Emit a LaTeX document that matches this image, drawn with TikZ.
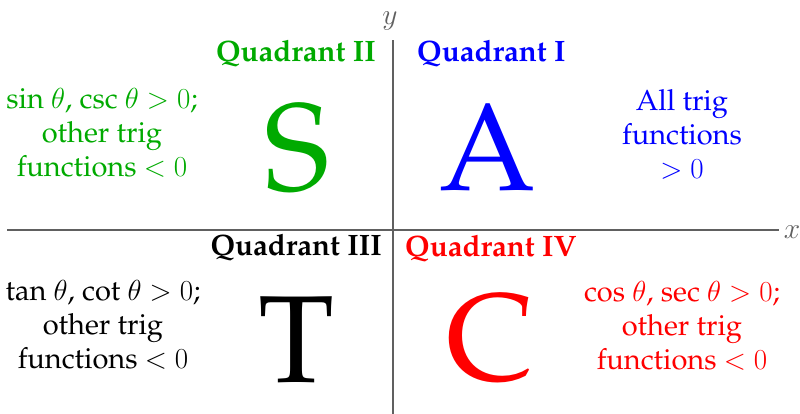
\RequirePackage{fix-cm}
\documentclass[tikz,border=0pt]{standalone}
\usepackage[T1]{fontenc}
\usepackage{palatino}
\usepackage{xcolor}
\usepackage{tikz}
\usetikzlibrary{positioning}
\definecolor{qgreen}{HTML}{00AA00}
\definecolor{qblue}{HTML}{0000FF}
\definecolor{qred}{HTML}{FF0000}
\definecolor{axisgray}{HTML}{606060}

\begin{document}
\begin{tikzpicture}[x=1pt, y=-1pt,
  axis/.style={draw=axisgray, line width=2pt},
  axlabel/.style={text=axisgray, font=\fontsize{29.5}{35}\selectfont, inner sep=0pt},
  quadlabel/.style={font=\fontsize{29.5}{35}\selectfont\bfseries, inner sep=0pt},
  bigletter/.style={font=\fontsize{124}{130}\selectfont, inner sep=0pt, anchor=base},
  signs/.style={align=center, font=\fontsize{29}{34}\selectfont, inner sep=0pt}
]
\useasboundingbox (0,0) rectangle (800,414);

\coordinate (ytop) at (393,40);
\coordinate (ybot) at (393,414);
\coordinate (xleft) at (7,229.5);
\coordinate (xright) at (779,229.5);
\draw[axis] (ybot) -- (ytop);
\draw[axis] (xleft) -- (xright);
\node[axlabel] (ylab) at (390,21) {$y$};
\node[axlabel] (xlab) at (792,232) {$x$};

\node[quadlabel, qgreen, anchor=base east] (q2) at (376,62) {Quadrant II};
\node[quadlabel, qblue, anchor=base west] (q1) at (417,62) {Quadrant I};
\node[quadlabel, black, anchor=base east] (q3) at (382,255) {Quadrant III};
\node[quadlabel, qred, anchor=base west] (q4) at (405,256) {Quadrant IV};

\node[bigletter, qgreen] (s) at (297,190) {S};
\node[bigletter, qblue] (a) at (488,191) {A};
\node[bigletter, black] (t) at (297,382) {T};
\node[bigletter, qred] (c) at (490,380) {C};

\node[signs, qgreen] (s2) at (102,133) {sin $\theta$, csc $\theta > 0$;\\other trig\\functions $< 0$};
\node[signs, qblue] (s1) at (682,134) {All trig\\functions\\$> 0$};
\node[signs, black] (s3) at (103,325) {tan $\theta$, cot $\theta > 0$;\\other trig\\functions $< 0$};
\node[signs, qred] (s4) at (682,326) {cos $\theta$, sec $\theta > 0$;\\other trig\\functions $< 0$};
\end{tikzpicture}
\end{document}
